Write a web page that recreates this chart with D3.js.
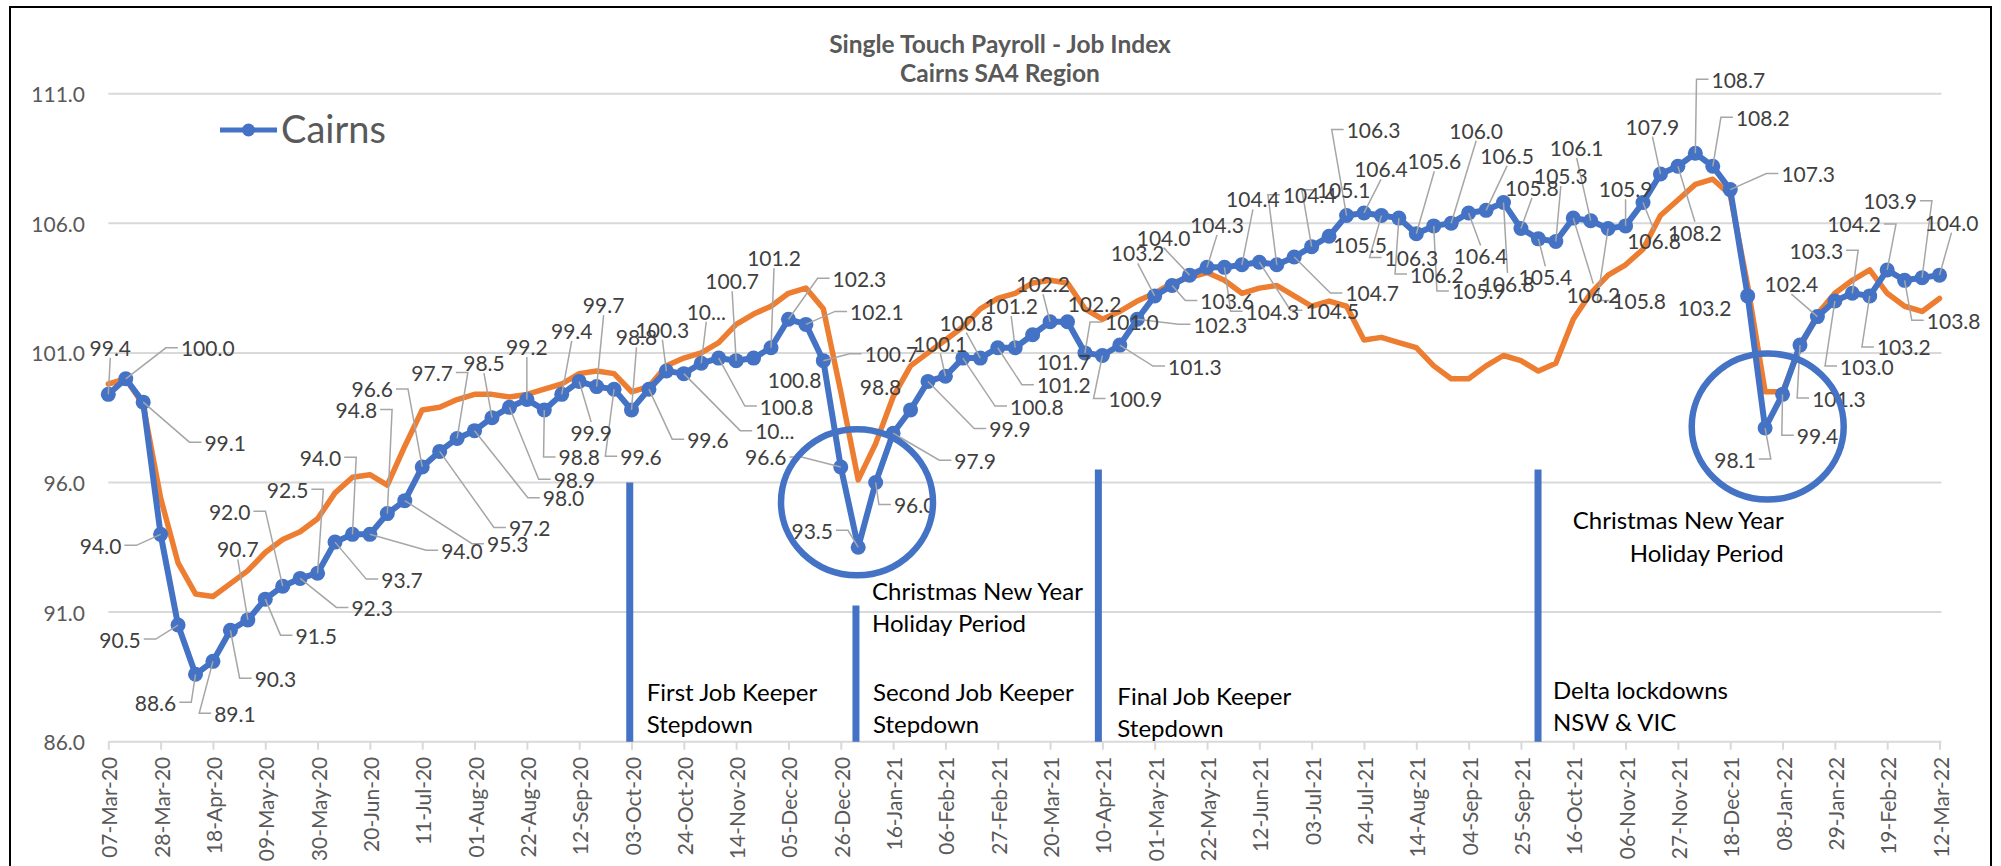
<!DOCTYPE html>
<html>
<head>
  <title>Single Touch Payroll - Job Index</title>
  <meta charset='utf-8'>
  <style>
    body { margin: 0; background: #fff; }
    svg { display: block; font-family: Lato, "Open Sans", sans-serif; }
  </style>
</head>
<body>
  <div id="chart"></div>

  <script src="https://d3js.org/d3.v7.min.js"></script>

  <script type="text/javascript">
    // x axis labels, one every third week
    var tickLabels = ["07-Mar-20", "28-Mar-20", "18-Apr-20", "09-May-20", "30-May-20", "20-Jun-20",
      "11-Jul-20", "01-Aug-20", "22-Aug-20", "12-Sep-20", "03-Oct-20", "24-Oct-20", "14-Nov-20",
      "05-Dec-20", "26-Dec-20", "16-Jan-21", "06-Feb-21", "27-Feb-21", "20-Mar-21", "10-Apr-21",
      "01-May-21", "22-May-21", "12-Jun-21", "03-Jul-21", "24-Jul-21", "14-Aug-21", "04-Sep-21",
      "25-Sep-21", "16-Oct-21", "06-Nov-21", "27-Nov-21", "18-Dec-21", "08-Jan-22", "29-Jan-22",
      "19-Feb-22", "12-Mar-22"];

    // weekly job index, Cairns (blue)
    var cairns = [99.4, 100.0, 99.1, 94.0, 90.5, 88.6, 89.1, 90.3, 90.7, 91.5,
      92.0, 92.3, 92.5, 93.7, 94.0, 94.0, 94.8, 95.3, 96.6, 97.2,
      97.7, 98.0, 98.5, 98.9, 99.2, 98.8, 99.4, 99.9, 99.7, 99.6,
      98.8, 99.6, 100.3, 100.2, 100.6, 100.8, 100.7, 100.8, 101.2, 102.3,
      102.1, 100.7, 96.6, 93.5, 96.0, 97.9, 98.8, 99.9, 100.1, 100.8,
      100.8, 101.2, 101.2, 101.7, 102.2, 102.2, 101.0, 100.9, 101.3, 102.3,
      103.2, 103.6, 104.0, 104.3, 104.3, 104.4, 104.5, 104.4, 104.7, 105.1,
      105.5, 106.3, 106.4, 106.3, 106.2, 105.6, 105.9, 106.0, 106.4, 106.5,
      106.8, 105.8, 105.4, 105.3, 106.2, 106.1, 105.8, 105.9, 106.8, 107.9,
      108.2, 108.7, 108.2, 107.3, 103.2, 98.1, 99.4, 101.3, 102.4, 103.0,
      103.3, 103.2, 104.2, 103.8, 103.9, 104.0];

    // second series (orange, no legend entry)
    var comparison = [99.8, 100.0, 99.0, 95.4, 92.9, 91.7, 91.6, 92.1, 92.6, 93.3,
      93.8, 94.1, 94.6, 95.6, 96.2, 96.3, 95.9, 97.4, 98.8, 98.9,
      99.2, 99.4, 99.4, 99.3, 99.4, 99.6, 99.8, 100.2, 100.3, 100.2,
      99.5, 99.7, 100.5, 100.8, 101.0, 101.4, 102.1, 102.5, 102.8, 103.3,
      103.5, 102.7, 99.5, 96.1, 97.5, 99.3, 100.5, 101.0, 101.5, 102.0,
      102.7, 103.1, 103.3, 103.7, 103.8, 103.7, 102.7, 102.3, 102.6, 103.0,
      103.3, 103.7, 103.9, 104.1, 103.8, 103.3, 103.5, 103.6, 103.2, 102.8,
      103.0, 102.8, 101.5, 101.6, 101.4, 101.2, 100.5, 100.0, 100.0, 100.5,
      100.9, 100.7, 100.3, 100.6, 102.3, 103.3, 104.0, 104.4, 105.0, 106.3,
      106.9, 107.5, 107.7, 107.1, 103.6, 99.5, 99.5, 101.2, 102.5, 103.3,
      103.8, 104.2, 103.3, 102.8, 102.6, 103.1];

    var yTicks = [86, 91, 96, 101, 106, 111];

    // labels Excel cut short
    var truncated = [33, 34];

    // where each data label sits, px from its point (label centre)
    var labelOffsets = [[2,-47],[82,-31],[82,40],[-60,11],[-58,14],[-40,28],[22,52],[45,48],[-10,-71],[51,36],
      [-53,-75],[72,29],[-30,-84],[67,37],[-32,-77],[92,16],[-31,-104],[103,43],[-50,-78],[90,76],
      [-25,-66],[89,67],[-8,-55],[65,72],[0,-53],[35,47],[10,-64],[12,51],[7,-82],[27,67],
      [5,-73],[59,50],[-4,-42],[91,57],[5,-52],[68,48],[-4,-80],[41,21],[3,-90],[71,-41],
      [71,-13],[68,-7],[-75,-10],[-46,-17],[39,22],[82,27],[-30,-23],[82,47],[-5,-33],[74,48],
      [-14,-36],[66,37],[-4,-42],[31,27],[-7,-38],[27,-18],[47,-31],[33,43],[75,21],[83,5],
      [-17,-43],[55,15],[-26,-38],[10,-43],[48,44],[11,-66],[73,48],[33,-70],[78,36],[32,-57],
      [31,8],[27,-86],[17,-44],[30,42],[38,56],[18,-73],[45,65],[25,-93],[12,43],[21,-55],
      [4,81],[11,-41],[7,38],[5,-66],[20,76],[-14,-73],[31,72],[0,-37],[11,38],[-8,-48],
      [17,66],[43,-74],[50,-49],[78,-16],[-43,12],[-30,31],[35,41],[39,53],[-26,-33],[32,65],
      [-36,-43],[34,51],[-33,-46],[49,40],[-32,-77],[12,-53]];

    // vertical event markers: week position and top value
    var events = [
      {at: 29.9, top: 96.0, text: ["First Job Keeper", "Stepdown"], dx: 17, dy: -41},
      {at: 42.87, top: 91.25, text: ["Second Job Keeper", "Stepdown"], dx: 17, dy: -41},
      {at: 56.77, top: 96.5, text: ["Final Job Keeper", "Stepdown"], dx: 19, dy: -37},
      {at: 81.98, top: 96.5, text: ["Delta lockdowns", "NSW & VIC"], dx: 15, dy: -43}
    ];

    // holiday dips circled
    var holidays = [
      {at: 42.93, value: 95.24, text: ["Christmas New Year", "Holiday Period"]},
      {at: 95.15, value: 98.16, text: ["Christmas New Year", "Holiday Period"]}
    ];

    var width = 2001,
        height = 866;

    var blue = "#4472c4",
        orange = "#ed7d31";

    var svg = d3.select("#chart")
                .append("svg")
                .attr("width", width)
                .attr("height", height)
                .style("background", "#fff");

    var x = d3.scaleLinear().domain([0, cairns.length - 1]).range([108.3, 1939.5]);
    var y = d3.scaleLinear().domain([86, 111]).range([741.7, 93.7]);

    // chart frame (bottom edge is out of view)
    svg.append("path")
        .attr("d", "M10,870V7H1991V870")
        .attr("fill", "none")
        .attr("stroke", "#000")
        .attr("stroke-width", 2);

    // title
    svg.append("text")
        .attr("x", 1000).attr("y", 53)
        .attr("text-anchor", "middle")
        .attr("font-weight", "bold")
        .attr("font-size", 24.5)
        .attr("fill", "#595959")
        .text("Single Touch Payroll - Job Index");
    svg.append("text")
        .attr("x", 1000).attr("y", 82)
        .attr("text-anchor", "middle")
        .attr("font-weight", "bold")
        .attr("font-size", 24.5)
        .attr("fill", "#595959")
        .text("Cairns SA4 Region");

    // gridlines + y labels
    svg.selectAll(".grid")
        .data(yTicks)
        .enter()
        .append("line")
        .attr("x1", x(0))
        .attr("x2", x(cairns.length - 1) + 2)
        .attr("y1", function(d) { return y(d); })
        .attr("y2", function(d) { return y(d); })
        .style("stroke", "#d9d9d9")
        .style("stroke-width", "2px");

    svg.selectAll(".ylab")
        .data(yTicks)
        .enter()
        .append("text")
        .attr("x", 85)
        .attr("y", function(d) { return y(d); })
        .attr("text-anchor", "end")
        .attr("dominant-baseline", "central")
        .attr("font-size", 21)
        .attr("fill", "#595959")
        .text(function(d) { return d.toFixed(1); });

    // x ticks and labels
    var xAxis = d3.axisBottom(x)
        .tickValues(tickLabels.map(function(d, i) { return i * 3; }))
        .tickSize(8)
        .tickFormat(function(d) { return tickLabels[d / 3]; });

    var ax = svg.append("g")
        .attr("transform", "translate(0," + y(86) + ")")
        .call(xAxis);
    ax.select(".domain").remove();
    ax.selectAll(".tick line").attr("stroke", "#d9d9d9").attr("stroke-width", 2);
    ax.selectAll(".tick text")
        .attr("font-family", "Lato, 'Open Sans', sans-serif")
        .attr("font-size", 21)
        .attr("fill", "#595959")
        .attr("transform", "rotate(-90)")
        .attr("text-anchor", "end")
        .attr("x", -15)
        .attr("y", 0)
        .attr("dy", null)
        .attr("dominant-baseline", "central");

    // event marker bars
    svg.selectAll(".event")
        .data(events)
        .enter()
        .append("line")
        .attr("x1", function(d) { return x(d.at); })
        .attr("x2", function(d) { return x(d.at); })
        .attr("y1", function(d) { return y(d.top); })
        .attr("y2", y(86))
        .style("stroke", blue)
        .style("stroke-width", "7px");

    // series lines
    var line = d3.line()
        .x(function(d, i) { return x(i); })
        .y(function(d) { return y(d); });

    svg.append("path")
        .datum(comparison)
        .attr("d", line)
        .attr("fill", "none")
        .attr("stroke", orange)
        .attr("stroke-width", 5.5)
        .attr("stroke-linejoin", "round")
        .attr("stroke-linecap", "round");

    svg.append("path")
        .datum(cairns)
        .attr("d", line)
        .attr("fill", "none")
        .attr("stroke", blue)
        .attr("stroke-width", 6)
        .attr("stroke-linejoin", "round")
        .attr("stroke-linecap", "round");

    svg.selectAll(".marker")
        .data(cairns)
        .enter()
        .append("circle")
        .attr("cx", function(d, i) { return x(i); })
        .attr("cy", function(d) { return y(d); })
        .attr("r", 7.5)
        .attr("fill", blue);

    // data labels with leader lines
    var leaders = svg.append("g");
    var labels = svg.append("g")
        .selectAll("text")
        .data(cairns)
        .enter()
        .append("text")
        .attr("x", function(d, i) { return x(i) + labelOffsets[i][0]; })
        .attr("y", function(d, i) { return y(d) + labelOffsets[i][1]; })
        .attr("text-anchor", "middle")
        .attr("dominant-baseline", "central")
        .attr("font-size", 21)
        .attr("fill", "#404040")
        .text(function(d, i) { return truncated.indexOf(i) >= 0 ? "10..." : d.toFixed(1); });

    labels.each(function(d, i) {
      var b = this.getBBox(),
          px = x(i),
          py = y(d),
          cx = Math.max(b.x, Math.min(px, b.x + b.width)),
          cy = Math.max(b.y, Math.min(py, b.y + b.height));
      if (Math.hypot(cx - px, cy - py) < 18) return;
      var pts;
      if (px >= b.x && px <= b.x + b.width) {
        // point below/above the label: straight from its edge
        pts = [[b.x + b.width / 2, py < b.y ? b.y + 2 : b.y + b.height - 2], [px, py]];
      } else {
        // Excel style elbow: short stub at mid height, then to the point
        var right = px > b.x + b.width,
            ex = right ? b.x + b.width + 3 : b.x - 3,
            sx = right ? ex + 12 : ex - 12,
            my = b.y + b.height / 2;
        pts = [[ex, my], [sx, my], [px, py]];
      }
      leaders.append("path")
          .attr("d", d3.line()(pts))
          .attr("fill", "none")
          .style("stroke", "#a6a6a6")
          .style("stroke-width", "1.5px");
    });

    // circles round the holiday dips
    svg.selectAll(".ring")
        .data(holidays)
        .enter()
        .append("ellipse")
        .attr("cx", function(d) { return x(d.at); })
        .attr("cy", function(d) { return y(d.value); })
        .attr("rx", 76)
        .attr("ry", 73)
        .attr("fill", "none")
        .attr("stroke", blue)
        .attr("stroke-width", 6.5);

    // annotation texts
    events.forEach(function(ev) {
      var t = svg.append("text")
          .attr("font-size", 24)
          .attr("fill", "#000");
      ev.text.forEach(function(s, k) {
        t.append("tspan")
            .attr("x", x(ev.at) + ev.dx)
            .attr("y", y(86) + ev.dy + k * 32)
            .text(s);
      });
    });

    // left holiday note sits under the first ring, right one is right-aligned
    var h0 = svg.append("text").attr("font-size", 24).attr("fill", "#000");
    holidays[0].text.forEach(function(s, k) {
      h0.append("tspan")
          .attr("x", x(holidays[0].at) + 15)
          .attr("y", y(holidays[0].value) + 98 + k * 32)
          .text(s);
    });
    var h1 = svg.append("text").attr("font-size", 24).attr("fill", "#000").attr("text-anchor", "end");
    holidays[1].text.forEach(function(s, k) {
      h1.append("tspan")
          .attr("x", x(holidays[1].at) + 16)
          .attr("y", y(holidays[1].value) + 102 + k * 33)
          .text(s);
    });

    // legend
    var lg = svg.append("g");
    lg.append("line")
        .attr("x1", 220).attr("x2", 277)
        .attr("y1", 130).attr("y2", 130)
        .style("stroke", blue)
        .style("stroke-width", "5px");
    lg.append("circle")
        .attr("cx", 248.5).attr("cy", 130)
        .attr("r", 6.5)
        .attr("fill", blue);
    lg.append("text")
        .attr("x", 281).attr("y", 143)
        .attr("font-size", 38)
        .attr("fill", "#595959")
        .text("Cairns");
  </script>
</body>
</html>
